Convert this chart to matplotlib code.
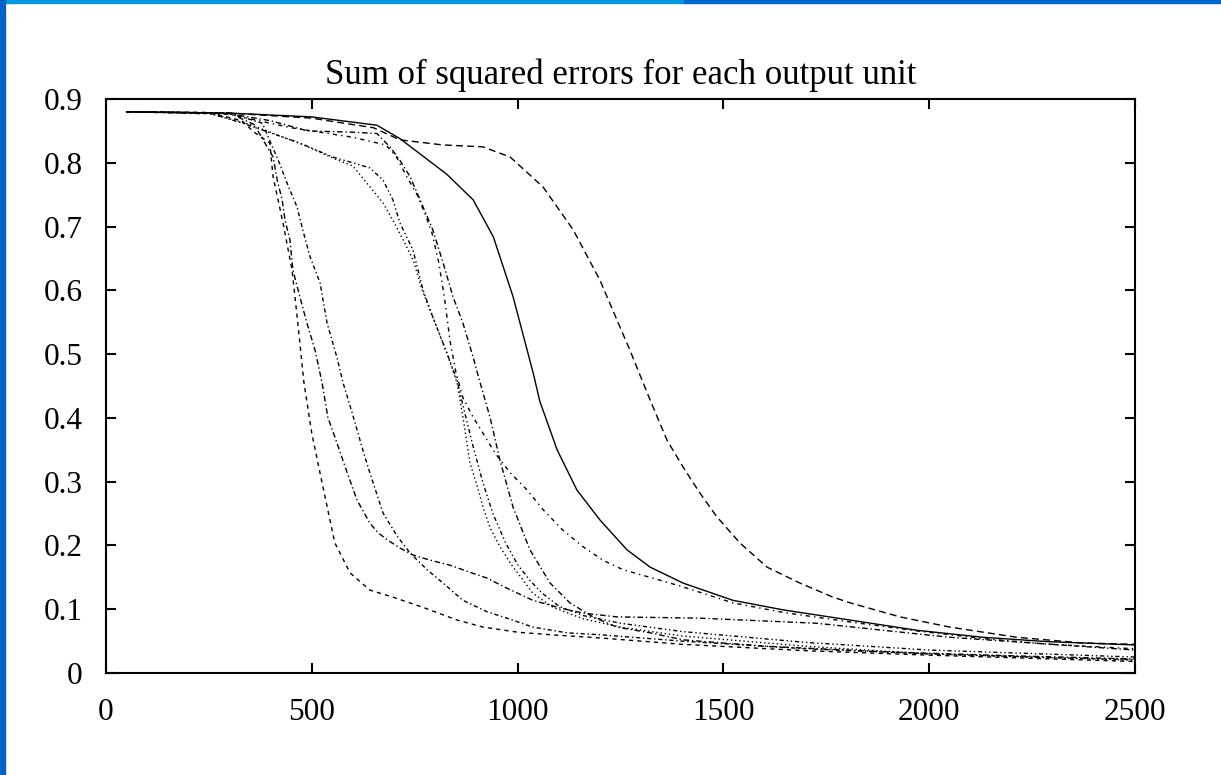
import matplotlib.pyplot as plt
from matplotlib.patches import Rectangle

# error curves, one per output unit (epochs, sum of squared errors)
a_x = [50, 250, 330, 360, 398, 406, 430, 452, 466, 481, 500, 525, 556, 593, 641, 697, 770, 853, 916, 1000, 1080, 1200, 1400, 1700, 2000, 2500]
a_y = [0.880, 0.879, 0.866, 0.848, 0.831, 0.778, 0.706, 0.632, 0.549, 0.455, 0.376, 0.298, 0.204, 0.157, 0.130, 0.119, 0.103, 0.083, 0.072, 0.064, 0.060, 0.055, 0.045, 0.035, 0.028, 0.018]

b_x = [50, 300, 360, 406, 416, 428, 435, 447, 454, 471, 488, 508, 525, 539, 561, 586, 610, 641, 661, 683, 714, 746, 787, 836, 884, 925, 974, 1037, 1103, 1159, 1241, 1443, 1727, 2050, 2500]
b_y = [0.880, 0.878, 0.860, 0.809, 0.773, 0.742, 0.710, 0.679, 0.632, 0.590, 0.549, 0.506, 0.455, 0.401, 0.361, 0.314, 0.271, 0.235, 0.220, 0.209, 0.196, 0.185, 0.177, 0.169, 0.158, 0.149, 0.133, 0.114, 0.102, 0.094, 0.088, 0.086, 0.078, 0.056, 0.036]

c_x = [50, 300, 380, 423, 440, 464, 478, 496, 520, 537, 561, 576, 598, 622, 641, 673, 707, 739, 780, 819, 867, 926, 974, 1037, 1120, 1200, 1400, 1700, 2000, 2300, 2500]
c_y = [0.880, 0.878, 0.862, 0.797, 0.768, 0.731, 0.695, 0.652, 0.612, 0.549, 0.495, 0.455, 0.408, 0.354, 0.314, 0.251, 0.215, 0.188, 0.162, 0.141, 0.114, 0.096, 0.086, 0.072, 0.063, 0.060, 0.050, 0.038, 0.030, 0.024, 0.021]

m1_x = [50, 250, 350, 480, 560, 600, 624, 673, 697, 722, 746, 768, 794, 828, 853, 870, 884, 901, 916, 933, 957, 989, 1013, 1037, 1086, 1159, 1250, 1400, 1700, 2000, 2500]
m1_y = [0.880, 0.878, 0.860, 0.828, 0.805, 0.795, 0.776, 0.737, 0.710, 0.679, 0.648, 0.601, 0.558, 0.502, 0.455, 0.390, 0.330, 0.295, 0.260, 0.228, 0.198, 0.166, 0.146, 0.125, 0.103, 0.085, 0.072, 0.058, 0.042, 0.030, 0.020]

m2_x = [50, 250, 333, 471, 551, 600, 641, 673, 697, 714, 746, 770, 794, 828, 853, 867, 890, 915, 940, 970, 1000, 1030, 1060, 1100, 1160, 1250, 1400, 1700, 2000, 2500]
m2_y = [0.880, 0.878, 0.862, 0.831, 0.809, 0.800, 0.792, 0.773, 0.742, 0.706, 0.663, 0.601, 0.558, 0.502, 0.459, 0.420, 0.360, 0.300, 0.250, 0.205, 0.170, 0.145, 0.125, 0.105, 0.090, 0.078, 0.065, 0.048, 0.036, 0.025]

m3_x = [50, 300, 400, 490, 600, 658, 690, 714, 739, 763, 794, 819, 843, 867, 892, 909, 933, 957, 989, 1030, 1079, 1127, 1183, 1241, 1322, 1402, 1600, 1900, 2200, 2500]
m3_y = [0.880, 0.877, 0.866, 0.850, 0.848, 0.846, 0.825, 0.804, 0.778, 0.742, 0.695, 0.643, 0.590, 0.549, 0.495, 0.455, 0.401, 0.334, 0.260, 0.193, 0.141, 0.110, 0.088, 0.072, 0.063, 0.052, 0.042, 0.033, 0.027, 0.022]

m4_x = [50, 300, 450, 600, 680, 705, 731, 756, 775, 792, 808, 822, 836, 850, 867, 892, 916, 945, 982, 1023, 1062, 1110, 1159, 1207, 1256, 1322, 1402, 1523, 1645, 1808, 1970, 2131, 2293, 2500]
m4_y = [0.880, 0.876, 0.855, 0.840, 0.828, 0.810, 0.778, 0.750, 0.720, 0.690, 0.645, 0.590, 0.520, 0.472, 0.432, 0.401, 0.376, 0.345, 0.314, 0.287, 0.256, 0.224, 0.198, 0.177, 0.162, 0.150, 0.135, 0.110, 0.095, 0.080, 0.066, 0.054, 0.045, 0.038]

s_x = [50, 300, 500, 658, 714, 763, 828, 892, 941, 989, 1038, 1054, 1096, 1144, 1200, 1266, 1322, 1402, 1523, 1645, 1808, 1970, 2131, 2293, 2500]
s_y = [0.880, 0.878, 0.872, 0.859, 0.838, 0.814, 0.782, 0.742, 0.684, 0.590, 0.470, 0.426, 0.350, 0.287, 0.240, 0.193, 0.166, 0.141, 0.114, 0.099, 0.083, 0.067, 0.056, 0.049, 0.044]

d_x = [50, 300, 500, 650, 714, 819, 916, 982, 1062, 1135, 1200, 1273, 1322, 1363, 1402, 1443, 1484, 1540, 1606, 1686, 1766, 1808, 1929, 2050, 2213, 2374, 2500]
d_y = [0.880, 0.878, 0.870, 0.855, 0.836, 0.828, 0.825, 0.809, 0.762, 0.695, 0.616, 0.506, 0.428, 0.365, 0.323, 0.282, 0.245, 0.204, 0.166, 0.141, 0.119, 0.110, 0.088, 0.072, 0.056, 0.047, 0.045]

x_ticks = [0, 500, 1000, 1500, 2000, 2500]
y_ticks = [0, 0.1, 0.2, 0.3, 0.4, 0.5, 0.6, 0.7, 0.8, 0.9]
y_labels = ['0', '0.1', '0.2', '0.3', '0.4', '0.5', '0.6', '0.7', '0.8', '0.9']

plt.rcParams['font.family'] = ['Liberation Serif', 'DejaVu Serif']

fig = plt.figure(figsize=(12.21, 7.75), dpi=100)

# blue slide frame
fig.patches.append(Rectangle((0, 0.996), 0.56, 0.004, transform=fig.transFigure, color='#0099e0', zorder=0))
fig.patches.append(Rectangle((0.56, 0.996), 0.44, 0.004, transform=fig.transFigure, color='#0066cc', zorder=0))
fig.patches.append(Rectangle((0, 0), 0.0045, 1, transform=fig.transFigure, color='#0062c4', zorder=0))

ax = fig.add_axes([0.0868, 0.1316, 0.8428, 0.7406])

lw = 1.0
ax.plot(s_x, s_y, color='black', lw=lw, linestyle='-')
ax.plot(d_x, d_y, color='black', lw=lw, linestyle=(0, (5, 3)))
ax.plot(a_x, a_y, color='black', lw=lw, linestyle=(0, (3, 3)))
ax.plot(b_x, b_y, color='black', lw=lw, linestyle=(0, (4, 2, 1, 2)))
ax.plot(c_x, c_y, color='black', lw=lw, linestyle=(0, (3, 2, 1, 2)))
ax.plot(m1_x, m1_y, color='black', lw=lw, linestyle=(0, (1, 2)))
ax.plot(m2_x, m2_y, color='black', lw=lw, linestyle=(0, (3, 2, 1, 2, 1, 2)))
ax.plot(m3_x, m3_y, color='black', lw=lw, linestyle=(0, (4, 2, 1, 2)))
ax.plot(m4_x, m4_y, color='black', lw=lw, linestyle=(0, (3, 3, 1, 3)))

ax.set_xlim(0, 2500)
ax.set_ylim(0, 0.9)
ax.set_xticks(x_ticks)
ax.set_yticks(y_ticks)
ax.set_yticklabels(y_labels)
ax.tick_params(direction='in', length=7, width=1.5, top=True, right=True, labelsize=22.5)
ax.tick_params(axis='y', pad=17)
ax.tick_params(axis='x', pad=18)
for sp in ax.spines.values():
    sp.set_linewidth(1.5)

ax.set_title('Sum of squared errors for each output unit', fontsize=25, pad=11)

fig.savefig('out.png', dpi=100)
